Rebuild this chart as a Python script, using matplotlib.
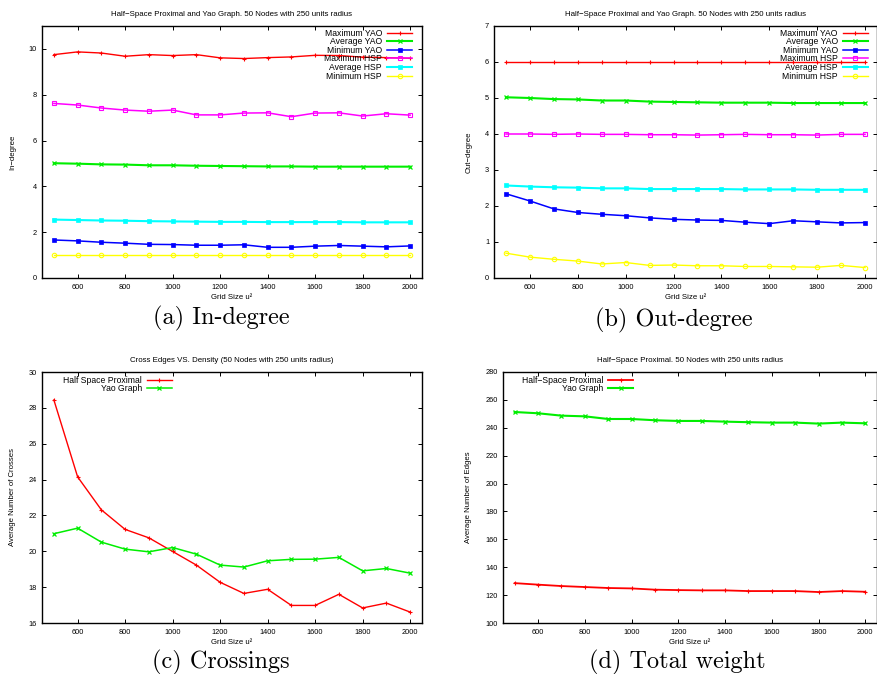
import matplotlib
matplotlib.use("Agg")
import matplotlib.pyplot as plt

# ---------------- data ----------------
grid = [500, 600, 700, 800, 900, 1000, 1100, 1200, 1300, 1400, 1500, 1600, 1700, 1800, 1900, 2000]

in_max_yao = [9.75, 9.87, 9.82, 9.68, 9.75, 9.71, 9.75, 9.61, 9.58, 9.62, 9.65, 9.72, 9.71, 9.64, 9.62, 9.59]
in_avg_yao = [5.01, 4.99, 4.96, 4.95, 4.92, 4.92, 4.90, 4.89, 4.88, 4.87, 4.87, 4.86, 4.86, 4.86, 4.86, 4.86]
in_min_yao = [1.66, 1.62, 1.56, 1.52, 1.47, 1.46, 1.43, 1.43, 1.45, 1.34, 1.34, 1.39, 1.42, 1.39, 1.36, 1.40]
in_max_hsp = [7.62, 7.55, 7.42, 7.33, 7.28, 7.33, 7.12, 7.12, 7.20, 7.21, 7.04, 7.20, 7.21, 7.07, 7.17, 7.11]
in_avg_hsp = [2.55, 2.53, 2.51, 2.50, 2.48, 2.47, 2.46, 2.45, 2.45, 2.44, 2.44, 2.44, 2.44, 2.43, 2.43, 2.43]
in_min_hsp = [1.0, 1.0, 1.0, 1.0, 1.0, 1.0, 1.0, 1.0, 1.0, 1.0, 1.0, 1.0, 1.0, 1.0, 1.0, 1.0]

out_max_yao = [6.0, 6.0, 6.0, 6.0, 6.0, 6.0, 6.0, 6.0, 6.0, 6.0, 6.0, 6.0, 6.0, 6.0, 6.0, 6.0]
out_avg_yao = [5.02, 5.00, 4.97, 4.96, 4.93, 4.93, 4.90, 4.89, 4.88, 4.87, 4.87, 4.87, 4.86, 4.86, 4.86, 4.86]
out_min_yao = [2.34, 2.14, 1.92, 1.82, 1.77, 1.73, 1.67, 1.63, 1.61, 1.60, 1.55, 1.51, 1.59, 1.56, 1.53, 1.54]
out_max_hsp = [4.00, 4.00, 3.99, 4.00, 3.99, 3.99, 3.98, 3.98, 3.97, 3.98, 3.99, 3.98, 3.98, 3.97, 3.99, 3.99]
out_avg_hsp = [2.57, 2.54, 2.52, 2.51, 2.49, 2.49, 2.47, 2.47, 2.47, 2.47, 2.46, 2.46, 2.46, 2.45, 2.45, 2.45]
out_min_hsp = [0.69, 0.58, 0.52, 0.47, 0.39, 0.43, 0.35, 0.36, 0.34, 0.34, 0.32, 0.32, 0.31, 0.30, 0.35, 0.29]

cross_hsp = [28.44, 24.15, 22.31, 21.22, 20.75, 19.99, 19.23, 18.27, 17.65, 17.88, 16.98, 16.98, 17.60, 16.84, 17.11, 16.61]
cross_yao = [20.98, 21.29, 20.51, 20.12, 19.97, 20.21, 19.84, 19.23, 19.12, 19.47, 19.55, 19.56, 19.66, 18.91, 19.04, 18.78]

edges_hsp = [128.6, 127.5, 126.5, 125.8, 125.1, 124.8, 123.9, 123.6, 123.4, 123.4, 122.9, 122.9, 122.9, 122.2, 122.9, 122.4]
edges_yao = [251.3, 250.4, 248.7, 248.2, 246.3, 246.3, 245.4, 244.9, 244.9, 244.4, 244.0, 243.7, 243.7, 243.0, 243.7, 243.2]

degree_labels = ["Maximum YAO", "Average YAO", "Minimum YAO", "Maximum HSP", "Average HSP", "Minimum HSP"]
pair_labels_c = ["Half Space Proximal", "Yao Graph"]
pair_labels_d = ["Half\u2212Space Proximal", "Yao Graph"]
xticks = [600, 800, 1000, 1200, 1400, 1600, 1800, 2000]

title_ab = "Half\u2212Space Proximal and Yao Graph. 50 Nodes with 250 units radius"
title_c = "Cross Edges VS. Density (50 Nodes with 250 units radius)"
title_d = "Half\u2212Space Proximal. 50 Nodes with 250 units radius"
captions = ["(a) In-degree", "(b) Out-degree", "(c) Crossings", "(d) Total weight"]

# ---------------- styling ----------------
plt.rcParams['font.family'] = ['Liberation Sans', 'DejaVu Sans']
W, H = 878, 674
fig = plt.figure(figsize=(W / 100, H / 100), dpi=100)


def px_axes(l, t, r, b):
    return fig.add_axes([l / W, 1 - b / H, (r - l) / W, (b - t) / H])


styles = [
    dict(color='#ff0000', marker='+', ms=3.4, mew=0.8, lw=1.0),
    dict(color='#00ee00', marker='x', ms=2.6, mew=0.9, lw=1.5),
    dict(color='#0000ff', marker='s', ms=2.4, mew=0.5, lw=1.1),
    dict(color='#ff00ff', marker='s', ms=3.2, mew=0.8, lw=1.1, mfc='none'),
    dict(color='#00ffff', marker='s', ms=2.4, mew=0.5, lw=1.5),
    dict(color='#ffff00', marker='o', ms=3.2, mew=0.8, lw=1.0, mfc='none'),
]


def setup(ax, ylim, yticks, ylabel, title, ylabel_x):
    ax.set_xlim(450, 2050)
    ax.set_ylim(*ylim)
    ax.set_xticks(xticks)
    ax.set_yticks(yticks)
    ax.tick_params(direction='in', length=3, width=0.7, top=True, right=True,
                   labelsize=5.3, colors='black')
    ax.tick_params(axis='x', pad=4.5)
    ax.tick_params(axis='y', pad=3.5)
    for s in ax.spines.values():
        s.set_linewidth(1.0)
    ax.set_xlabel("Grid Size u\u00b2", fontsize=5.6)
    ax.xaxis.set_label_coords(0.5, -0.062)
    ax.set_ylabel(ylabel, fontsize=5.6)
    ax.yaxis.set_label_coords(ylabel_x, 0.5)
    ax.set_title(title, fontsize=5.7, pad=7)


def legend(ax, anchor):
    ax.legend(loc='upper right', bbox_to_anchor=anchor, frameon=False, markerfirst=False,
              numpoints=1, fontsize=6.2, handlelength=2.9, handletextpad=0.6,
              labelspacing=-0.04, borderpad=0, borderaxespad=0)


# (a) In-degree
ax = px_axes(42, 26, 422, 278)
for vals, lab, st in zip([in_max_yao, in_avg_yao, in_min_yao, in_max_hsp, in_avg_hsp, in_min_hsp],
                         degree_labels, styles):
    ax.plot(grid, vals, label=lab, **st)
setup(ax, (0, 11), [0, 2, 4, 6, 8, 10], "In\u2212degree", title_ab, -0.068)
legend(ax, (0.974, 0.99))

# (b) Out-degree
ax = px_axes(494, 26, 877, 278)
for vals, lab, st in zip([out_max_yao, out_avg_yao, out_min_yao, out_max_hsp, out_avg_hsp, out_min_hsp],
                         degree_labels, styles):
    ax.plot(grid, vals, label=lab, **st)
setup(ax, (0, 7), [0, 1, 2, 3, 4, 5, 6, 7], "Out\u2212degree", title_ab, -0.056)
legend(ax, (0.976, 0.99))

# (c) Crossings
ax = px_axes(42, 372, 422, 623)
ax.plot(grid, cross_hsp, label=pair_labels_c[0], **dict(styles[0], lw=1.0))
ax.plot(grid, cross_yao, label=pair_labels_c[1], **dict(styles[1], lw=1.1))
setup(ax, (16, 30), [16, 18, 20, 22, 24, 26, 28, 30], "Average Number of Crosses", title_c, -0.068)
legend(ax, (0.342, 0.985))

# (d) Total weight
ax = px_axes(503, 372, 877, 623)
ax.plot(grid, edges_hsp, label=pair_labels_d[0], **dict(styles[0], lw=1.3))
ax.plot(grid, edges_yao, label=pair_labels_d[1], **dict(styles[1], lw=1.5))
setup(ax, (100, 280), list(range(100, 281, 20)), "Average Number of Edges", title_d, -0.082)
legend(ax, (0.348, 0.985))

# captions
cap_pos = [(221, 318), (674, 320), (221, 662), (677, 662)]
for txt, (cx, cy) in zip(captions, cap_pos):
    fig.text(cx / W, 1 - cy / H, txt, ha='center', va='center', fontsize=17.5,
             family=['cmr10', 'DejaVu Serif'])

fig.savefig("out.png", dpi=100)
